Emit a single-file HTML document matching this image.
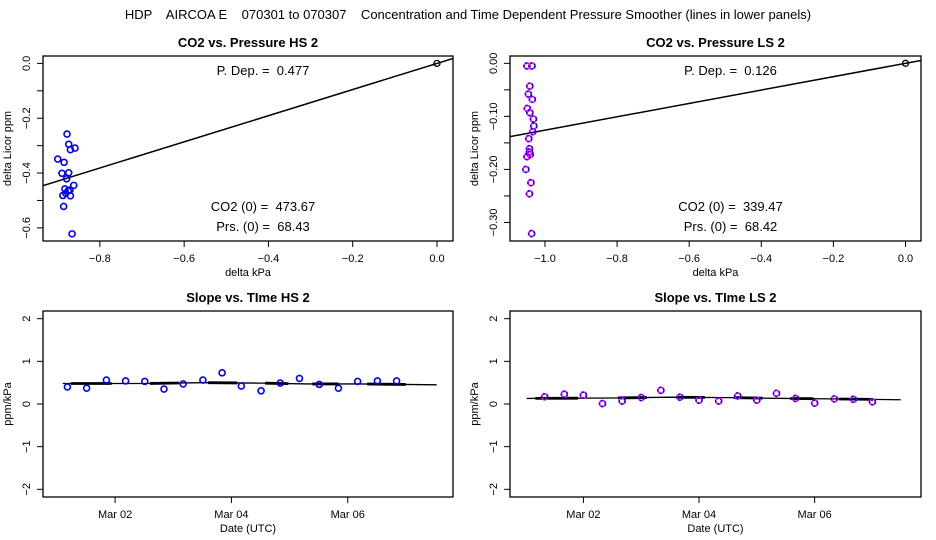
<!DOCTYPE html>
<html><head><meta charset="utf-8"><style>
body{margin:0;background:#fff}
svg{display:block;font-family:"Liberation Sans",sans-serif}
</style></head><body>
<svg id="c" width="936" height="540" viewBox="0 0 936 540" xmlns="http://www.w3.org/2000/svg">
<text x="468" y="19" font-size="13" text-anchor="middle" style="white-space:pre" xml:space="preserve">HDP    AIRCOA E    070301 to 070307    Concentration and Time Dependent Pressure Smoother (lines in lower panels)</text>
</svg>
<script>
// ---- data ----
const hsX = [-0.878,-0.874,-0.870,-0.859,-0.900,-0.885,-0.890,-0.874,-0.879,-0.862,-0.883,-0.875,-0.871,-0.888,-0.870,-0.881,-0.886,-0.866];
const hsY = [-0.258,-0.295,-0.315,-0.309,-0.349,-0.361,-0.401,-0.399,-0.421,-0.445,-0.458,-0.465,-0.462,-0.482,-0.483,-0.474,-0.522,-0.622];
const hsSlope = 0.477;
const lsX = [-1.050,-1.036,-1.042,-1.046,-1.035,-1.049,-1.042,-1.032,-1.031,-1.034,-1.045,-1.043,-1.043,-1.041,-1.050,-1.053,-1.039,-1.043,-1.037];
const lsY = [-0.005,-0.005,-0.043,-0.058,-0.068,-0.085,-0.093,-0.105,-0.118,-0.129,-0.142,-0.161,-0.167,-0.172,-0.176,-0.200,-0.225,-0.246,-0.321];
const lsSlope = 0.126;
const hsDays = [-0.82,-0.49,-0.15,0.18,0.51,0.84,1.17,1.51,1.84,2.17,2.51,2.84,3.17,3.51,3.84,4.17,4.51,4.84];
const hsSlopes = [0.40,0.37,0.56,0.54,0.53,0.35,0.47,0.56,0.73,0.42,0.31,0.49,0.60,0.46,0.37,0.53,0.54,0.54];
const hsSmoothDays = [-0.9,0.5,1.5,2.5,3.3,4.2,5.53];
const hsSmooth = [0.48,0.48,0.50,0.49,0.47,0.47,0.45];
const lsDays = [-0.67,-0.33,0.0,0.33,0.67,1.0,1.34,1.67,2.0,2.34,2.67,3.0,3.34,3.67,4.0,4.34,4.67,5.0];
const lsSlopes = [0.17,0.23,0.21,0.01,0.07,0.15,0.32,0.16,0.09,0.07,0.19,0.09,0.25,0.13,0.02,0.12,0.11,0.05];
const lsSmoothDays = [-0.98,0.5,1.5,2.5,3.5,4.3,5.49];
const lsSmooth = [0.13,0.14,0.16,0.15,0.13,0.12,0.10];
const dateTicks = [0,2,4];
const dateLabels = ["Mar 02","Mar 04","Mar 06"];

const svg = document.getElementById('c');
const NS = 'http://www.w3.org/2000/svg';
function mk(tag, at, parent){const e=document.createElementNS(NS,tag);for(const k in at)e.setAttribute(k,at[k]);(parent||svg).appendChild(e);return e;}
function txt(x,y,s,size,extra,parent){const t=mk('text',Object.assign({x:x,y:y,'font-size':size,'text-anchor':'middle'},extra||{}),parent);t.textContent=s;return t;}

function panel(o){
  const g=mk('g',{});
  
  
  const sx=v=>o.x0+(v-o.xmin)/(o.xmax-o.xmin)*(o.x1-o.x0);
  const sy=v=>o.y1-(v-o.ymin)/(o.ymax-o.ymin)*(o.y1-o.y0);
  const box=mk('rect',{x:o.x0,y:o.y0,width:o.x1-o.x0,height:o.y1-o.y0,fill:'none',stroke:'#000','stroke-width':1.3},g);
  
  
  const t=txt((o.x0+o.x1)/2,o.y0-9,o.title,13,{'font-weight':'bold'},g);
  
  
  o.yticks.forEach(v=>{mk('line',{x1:o.x0-6,x2:o.x0,y1:sy(v),y2:sy(v),stroke:'#000'},g);});
  o.ylabels.forEach(([v,s])=>{const yy=sy(v);const l=txt(o.x0-13,yy,s,11,{transform:`rotate(-90 ${o.x0-13} ${yy})`},g);
    
    });
  o.xticks.forEach(([v,s])=>{const xx=sx(v);mk('line',{x1:xx,x2:xx,y1:o.y1,y2:o.y1+6,stroke:'#000'},g);
    const l=txt(xx,o.y1+21,s,11,{},g);
    
    });
  const xl=txt((o.x0+o.x1)/2,o.y1+35,o.xlab,11,{},g);
  
  
  const ym=(o.y0+o.y1)/2, yx=o.x0-32;
  const yl=txt(yx,ym,o.ylab,11,{transform:`rotate(-90 ${yx} ${ym})`},g);
  
  
  return {g,sx,sy};
}
function circles(p,xs,ys,col,name,dual){
  xs.forEach((x,i)=>{
    const c=mk('circle',{cx:p.sx(x),cy:p.sy(ys[i]),r:3,fill:'none',stroke:col,'stroke-width':1.6},p.g);
    
    
    if(dual){mk('circle',{cx:p.sx(x),cy:p.sy(ys[i]),r:3,fill:'none',stroke:'#00f','stroke-width':1.6,'stroke-dasharray':'2 2'},p.g);}
  });
}
function scatterPanel(o,xs,ys,slope,col,dual,texts){
  const p=panel(o);
  const cl=mk('clipPath',{id:o.name+'-clip'},p.g);
  mk('rect',{x:o.x0,y:o.y0,width:o.x1-o.x0,height:o.y1-o.y0},cl);
  const ln=mk('line',{x1:p.sx(o.xmin),y1:p.sy(slope*o.xmin),x2:p.sx(o.xmax),y2:p.sy(slope*o.xmax),stroke:'#000','stroke-width':1.5,'clip-path':`url(#${o.name}-clip)`},p.g);
  
  
  circles(p,xs,ys,col,'data-point',dual);
  const z=mk('circle',{cx:p.sx(0),cy:p.sy(0),r:3,fill:'none',stroke:'#000','stroke-width':1.3},p.g);
  
  
  const cx=(o.x0+o.x1)/2+15;
  texts.forEach(([y,s])=>{const t=txt(cx,y,s,13,{'xml:space':'preserve',style:'white-space:pre'},p.g);
    
    });
}
function timePanel(o,days,vals,sd,sv,col,dual){
  const p=panel(o);
  const pts=sd.map((d,i)=>p.sx(d)+','+p.sy(sv[i])).join(' ');
  const pl=mk('polyline',{points:pts,fill:'none',stroke:'#000','stroke-width':1.3},p.g);
  
  
  for(let i=0;i<sd.length-1;i+=1){
    const a=sd[i]+(sd[i+1]-sd[i])*0.1,b=sd[i]+(sd[i+1]-sd[i])*0.6;
    const fa=sv[i]+(sv[i+1]-sv[i])*0.1,fb=sv[i]+(sv[i+1]-sv[i])*0.6;
    mk('line',{x1:p.sx(a),y1:p.sy(fa),x2:p.sx(b),y2:p.sy(fb),stroke:'#000','stroke-width':2.8},p.g);
  }
  circles(p,days,vals,col,'slope-point',dual);
}
scatterPanel({name:'co2-vs-pressure-hs',title:'CO2 vs. Pressure HS 2',x0:43,x1:453,y0:56,y1:241,xmin:-0.935,xmax:0.038,ymin:-0.648,ymax:0.027,
  yticks:[0,-0.1,-0.2,-0.3,-0.4,-0.5,-0.6],ylabels:[[0,'0.0'],[-0.2,'\u22120.2'],[-0.4,'\u22120.4'],[-0.6,'\u22120.6']],
  xticks:[[-0.8,'\u22120.8'],[-0.6,'\u22120.6'],[-0.4,'\u22120.4'],[-0.2,'\u22120.2'],[0,'0.0']],xlab:'delta kPa',ylab:'delta Licor ppm'},
  hsX,hsY,hsSlope,'#0000ff',false,[[75,'P. Dep. =  0.477'],[211,'CO2 (0) =  473.67'],[231,'Prs. (0) =  68.43']]);
scatterPanel({name:'co2-vs-pressure-ls',title:'CO2 vs. Pressure LS 2',x0:510,x1:921,y0:56,y1:241,xmin:-1.097,xmax:0.043,ymin:-0.335,ymax:0.0138,
  yticks:[0,-0.05,-0.1,-0.15,-0.2,-0.25,-0.3],ylabels:[[0,'0.00'],[-0.1,'\u22120.10'],[-0.2,'\u22120.20'],[-0.3,'\u22120.30']],
  xticks:[[-1,'\u22121.0'],[-0.8,'\u22120.8'],[-0.6,'\u22120.6'],[-0.4,'\u22120.4'],[-0.2,'\u22120.2'],[0,'0.0']],xlab:'delta kPa',ylab:'delta Licor ppm'},
  lsX,lsY,lsSlope,'#ff00ff',true,[[75,'P. Dep. =  0.126'],[211,'CO2 (0) =  339.47'],[231,'Prs. (0) =  68.42']]);
timePanel({name:'slope-vs-time-hs',title:'Slope vs. TIme HS 2',x0:43,x1:453,y0:311,y1:497,xmin:-1.24,xmax:5.81,ymin:-2.18,ymax:2.18,
  yticks:[2,1,0,-1,-2],ylabels:[[2,'2'],[1,'1'],[0,'0'],[-1,'\u22121'],[-2,'\u22122']],
  xticks:dateTicks.map((d,i)=>[d,dateLabels[i]]),xlab:'Date (UTC)',ylab:'ppm/kPa'},hsDays,hsSlopes,hsSmoothDays,hsSmooth,'#0000ff',false);
timePanel({name:'slope-vs-time-ls',title:'Slope vs. TIme LS 2',x0:510,x1:921,y0:311,y1:497,xmin:-1.27,xmax:5.84,ymin:-2.18,ymax:2.18,
  yticks:[2,1,0,-1,-2],ylabels:[[2,'2'],[1,'1'],[0,'0'],[-1,'\u22121'],[-2,'\u22122']],
  xticks:dateTicks.map((d,i)=>[d,dateLabels[i]]),xlab:'Date (UTC)',ylab:'ppm/kPa'},lsDays,lsSlopes,lsSmoothDays,lsSmooth,'#ff00ff',true);
</script>
</body></html>
